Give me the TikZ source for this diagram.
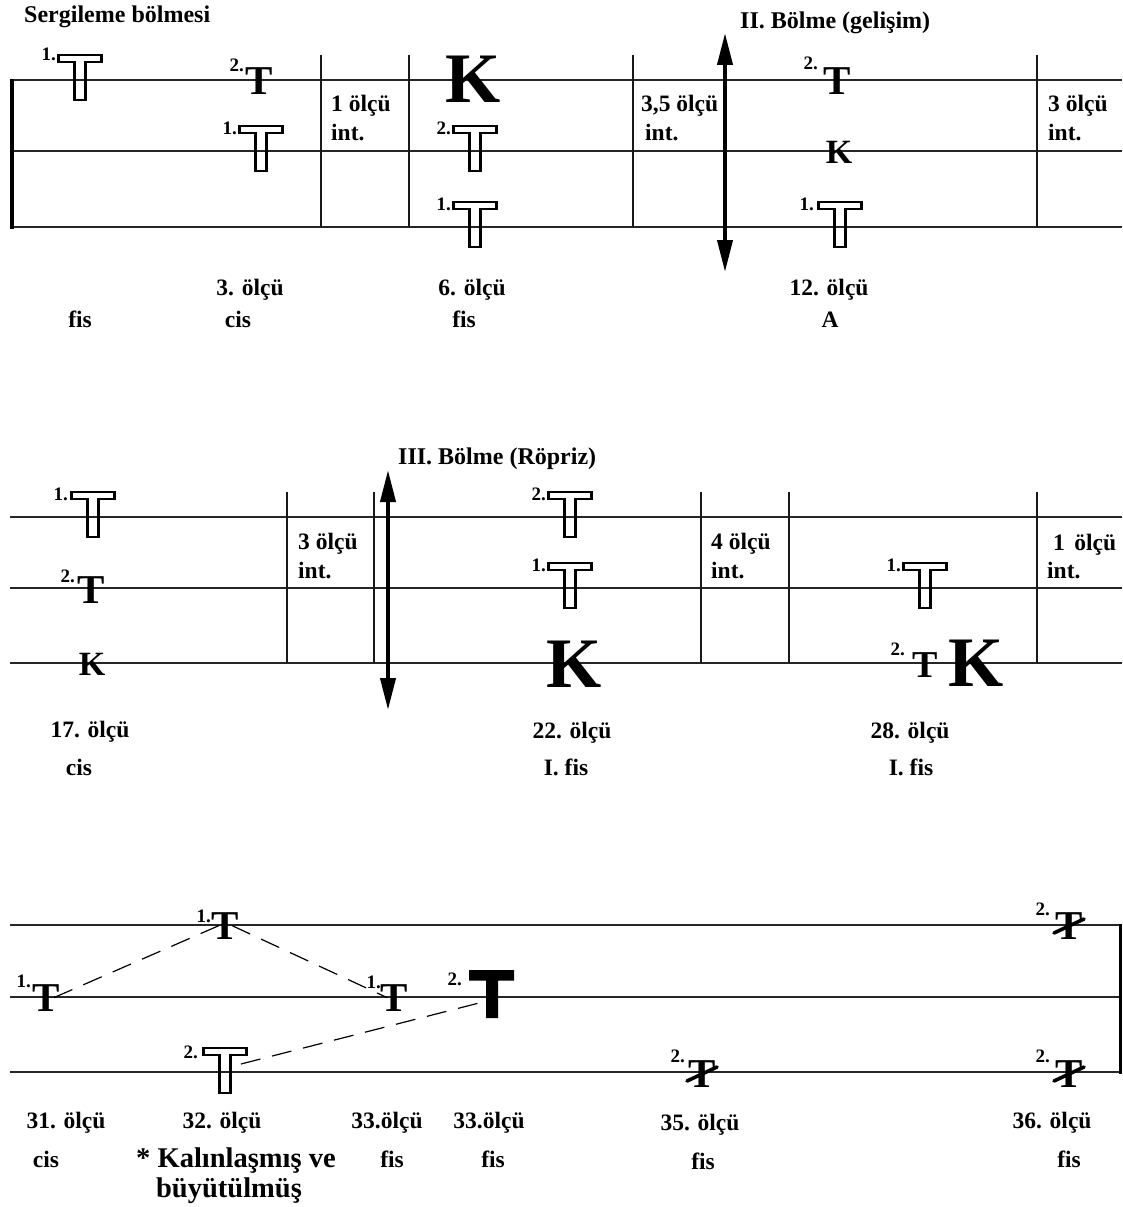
\documentclass[tikz,border=0pt]{standalone}
\usepackage{fontspec}
\setmainfont{Liberation Serif}
\usetikzlibrary{arrows.meta}
\tikzset{
  staff/.style={line width=1.6pt, draw=black!85},
  barline/.style={line width=1.3pt, draw=black!90},
  lbl/.style={inner sep=0pt, font=\fontsize{23.5}{27}\selectfont\bfseries},
  head/.style={inner sep=0pt, font=\fontsize{24}{28}\selectfont\bfseries},
  biglbl/.style={inner sep=0pt, font=\fontsize{28.5}{32}\selectfont\bfseries},
  num/.style={inner sep=0pt, font=\fontsize{19}{21}\selectfont\bfseries},
  tglyph/.style={inner sep=0pt, font=\fontsize{41}{45}\selectfont\bfseries},
  tsmall/.style={inner sep=0pt, font=\fontsize{38}{42}\selectfont\bfseries},
  ksmall/.style={inner sep=0pt, font=\fontsize{34}{38}\selectfont\bfseries},
  kbig/.style={inner sep=0pt, font=\fontsize{71}{75}\selectfont\bfseries},
  sectarrow/.style={line width=4pt, {Triangle[length=32pt,width=15pt]}-{Triangle[length=32pt,width=15pt]}},
  dashlink/.style={line width=1.2pt, dash pattern=on 20pt off 12pt},
  hollowT/.pic={
    \draw[line width=2.5pt, line join=miter]
      (-21.3,1.2) -- (21.3,1.2) -- (21.3,7.8) -- (5.4,7.8) -- (5.4,45.8)
      -- (-5.4,45.8) -- (-5.4,7.8) -- (-21.3,7.8) -- cycle;
    \coordinate (-top) at (0,0);
    \coordinate (-r) at (16,17);
  },
  crossT/.pic={
    \node[tglyph, anchor=base] (-g) at (0,0) {T};
    \draw[line width=3.6pt, line cap=round] (-15,-6) -- (15,-20);
  }
}
\begin{document}
\begin{tikzpicture}[x=1pt,y=-1pt]
\useasboundingbox (0,0) rectangle (1122,1207);

% ================= Section 1 =================
\foreach \yy in {80,151,227} \draw[staff] (10,\yy) -- (1122,\yy);
\draw[line width=4pt] (12,78.5) -- (12,228.5);
\foreach \xx in {321,409,633,1037} \draw[barline] (\xx,55) -- (\xx,227);
\draw[sectarrow] (725,33) -- (725,272);

\node[head, anchor=base west] (h1) at (24,23) {Sergileme bölmesi};
\node[head, anchor=base west] (h2) at (740,29) {II. Bölme (gelişim)};

\pic (a1) at (80,54) {hollowT};
\node[num, anchor=base east] (a1n) at (56,61) {1.};
\node[tglyph, anchor=base] (a2) at (259.5,95) {T};
\node[num, anchor=base east] (a2n) at (244,71) {2.};
\pic (a3) at (261,125) {hollowT};
\node[num, anchor=base east] (a3n) at (237,134) {1.};
\node[lbl, anchor=base west] (i1a) at (331,111) {1 ölçü};
\node[lbl, anchor=base west] (i1b) at (331,140) {int.};
\node[kbig, anchor=base] (a4) at (473,102) {K};
\pic (a5) at (475,125) {hollowT};
\node[num, anchor=base east] (a5n) at (451,134) {2.};
\pic (a6) at (475,201) {hollowT};
\node[num, anchor=base east] (a6n) at (451,210) {1.};
\node[lbl, anchor=base west] (i2a) at (641,111) {3,5 ölçü};
\node[lbl, anchor=base west] (i2b) at (645,140) {int.};
\node[tglyph, anchor=base] (a7) at (837,94) {T};
\node[num, anchor=base east] (a7n) at (818,70) {2.};
\node[ksmall, anchor=base] (a8) at (839,163) {K};
\pic (a9) at (840,201) {hollowT};
\node[num, anchor=base east] (a9n) at (814,210) {1.};
\node[lbl, anchor=base west] (i3a) at (1048,111) {3 ölçü};
\node[lbl, anchor=base west] (i3b) at (1048,140) {int.};

\node[lbl, anchor=base] (m3) at (250,295) {3. ölçü};
\node[lbl, anchor=base] (m6) at (472,295) {6. ölçü};
\node[lbl, anchor=base] (m12) at (829,295) {12. ölçü};
\node[lbl, anchor=base] (k1) at (80,327) {fis};
\node[lbl, anchor=base] (k2) at (238,327) {cis};
\node[lbl, anchor=base] (k3) at (464,327) {fis};
\node[lbl, anchor=base] (k4) at (830,327) {A};

% ================= Section 2 =================
\foreach \yy in {517,588,663} \draw[staff] (10,\yy) -- (1122,\yy);
\foreach \xx in {287,374,701,789,1037} \draw[barline] (\xx,492) -- (\xx,663);
\draw[sectarrow] (388,470) -- (388,710);
\node[head, anchor=base west] (h3) at (398,464) {III. Bölme (Röpriz)};

\pic (b1) at (93,491) {hollowT};
\node[num, anchor=base east] (b1n) at (68,500) {1.};
\node[tglyph, anchor=base] (b2) at (91.5,603) {T};
\node[num, anchor=base east] (b2n) at (75,582) {2.};
\node[ksmall, anchor=base] (b3) at (92,675) {K};
\node[lbl, anchor=base west] (j1a) at (298,549) {3 ölçü};
\node[lbl, anchor=base west] (j1b) at (298,578) {int.};
\pic (b4) at (570,491) {hollowT};
\node[num, anchor=base east] (b4n) at (546,500) {2.};
\pic (b5) at (570,562) {hollowT};
\node[num, anchor=base east] (b5n) at (546,571) {1.};
\node[kbig, anchor=base] (b6) at (574,687) {K};
\node[lbl, anchor=base west] (j2a) at (711,549) {4 ölçü};
\node[lbl, anchor=base west] (j2b) at (711,578) {int.};
\pic (b7) at (925,562) {hollowT};
\node[num, anchor=base east] (b7n) at (901,571) {1.};
\node[tsmall, anchor=base] (b8) at (925,677) {T};
\node[num, anchor=base east] (b8n) at (905,655) {2.};
\node[kbig, anchor=base] (b9) at (976,686) {K};
\node[lbl, anchor=base west] (j3a) at (1053,550) {1\hspace{0.4em}ölçü};
\node[lbl, anchor=base west] (j3b) at (1047,578) {int.};

\node[lbl, anchor=base] (n17) at (90,737) {17. ölçü};
\node[lbl, anchor=base] (n22) at (572,738) {22. ölçü};
\node[lbl, anchor=base] (n28) at (910,738) {28. ölçü};
\node[lbl, anchor=base] (l1) at (79,775) {cis};
\node[lbl, anchor=base] (l2) at (566,775) {I. fis};
\node[lbl, anchor=base] (l3) at (911,775) {I. fis};

% ================= Section 3 =================
\foreach \yy in {925,997,1072} \draw[staff] (10,\yy) -- (1120,\yy);
\draw[line width=3pt] (1120,923.5) -- (1120,1073.5);

\node[tglyph, anchor=base] (c1) at (46,1011) {T};
\node[num, anchor=base east] (c1n) at (31,987) {1.};
\node[tglyph, anchor=base] (c2) at (225,939) {T};
\node[num, anchor=base east] (c2n) at (211,922) {1.};
\node[tglyph, anchor=base] (c3) at (394,1011) {T};
\node[num, anchor=base east] (c3n) at (381,988) {1.};
\fill (469,970) -- (514,970) -- (514,980.5) -- (498,980.5) -- (498,1018)
  -- (486,1018) -- (486,980.5) -- (469,980.5) -- cycle;
\coordinate (c4) at (479,1003);
\node[num, anchor=base east] (c4n) at (462,985) {2.};
\pic (c5) at (225,1047) {hollowT};
\node[num, anchor=base east] (c5n) at (198,1058) {2.};

\draw[dashlink] ([xshift=8pt]c1.center) -- ([xshift=-6pt]c2.center);
\draw[dashlink] ([xshift=7pt]c2.center) -- ([xshift=-7pt]c3.center);
\draw[dashlink] (c5-r) -- (c4);

\pic (c6) at (702,1087) {crossT};
\node[num, anchor=base east] (c6n) at (685,1062) {2.};
\pic (c7) at (1069,939) {crossT};
\node[num, anchor=base east] (c7n) at (1050,915) {2.};
\pic (c8) at (1069,1087) {crossT};
\node[num, anchor=base east] (c8n) at (1050,1062) {2.};

\node[lbl, anchor=base] (o31) at (66,1128) {31. ölçü};
\node[lbl, anchor=base] (o32) at (222,1128) {32. ölçü};
\node[lbl, anchor=base] (o33a) at (387,1128) {33.ölçü};
\node[lbl, anchor=base] (o33b) at (489,1128) {33.ölçü};
\node[lbl, anchor=base] (o35) at (700,1130) {35. ölçü};
\node[lbl, anchor=base] (o36) at (1052,1128) {36. ölçü};
\node[lbl, anchor=base] (p1) at (46,1167) {cis};
\node[biglbl, anchor=base] (p2) at (236,1167) {* Kalınlaşmış ve};
\node[biglbl, anchor=base] (p2b) at (229,1197) {büyütülmüş};
\node[lbl, anchor=base] (p3) at (392,1167) {fis};
\node[lbl, anchor=base] (p4) at (493,1167) {fis};
\node[lbl, anchor=base] (p5) at (703,1169) {fis};
\node[lbl, anchor=base] (p6) at (1069,1167) {fis};
\end{tikzpicture}
\end{document}
